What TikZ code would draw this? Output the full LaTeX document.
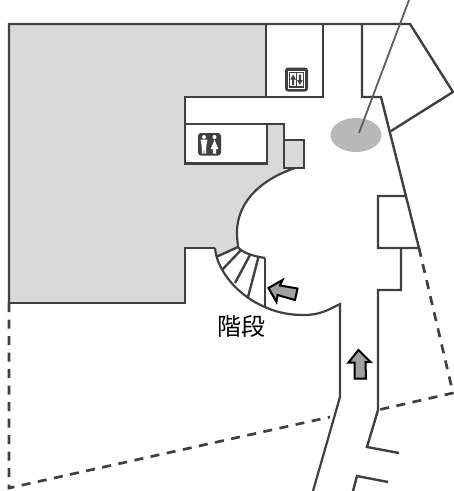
\documentclass[tikz,border=0pt]{standalone}
\usepackage{fontspec}
\newfontfamily\cjk{Noto Sans CJK JP}
\definecolor{wall}{HTML}{404040}
\definecolor{zone}{HTML}{D9D9D9}
\definecolor{spot}{HTML}{B8B8B8}
\definecolor{arrowfill}{HTML}{A0A0A0}
\tikzset{
  wallline/.style={draw=wall,line width=2.4pt,line join=miter},
  thinwall/.style={draw=wall,line width=2.2pt},
  dashline/.style={draw=wall,line width=2.7pt,dash pattern=on 9pt off 7.5pt},
  walkarrow/.style={draw=black,line width=2pt,fill=arrowfill,line join=miter},
  iconbg/.style={fill=wall,rounded corners=3pt},
}
\begin{document}
\begin{tikzpicture}[x=1pt,y=-1pt]
\useasboundingbox (0,0) rectangle (454,491);
% grey zone
\fill[zone] (9,24) -- (266,24) -- (266,97) -- (185,97) -- (185,163.5) -- (267,163.5) -- (267,124) -- (284,124) -- (284,168) -- (295,168)
  .. controls (268,177) and (237,197) .. (237,233)
  .. controls (237,240) and (238,244) .. (238,247)
  -- (216,256) -- (215,248) -- (185,248) -- (185,303) -- (9,303) -- cycle;
\fill[zone] (284,140) rectangle (304,168);
% spot and leader
\fill[spot] (356,135) ellipse [x radius=25.5,y radius=17];
% outer walls
\draw[wallline] (9,303) -- (9,24) -- (410,24) -- (453,92) -- (391,131);
\draw[wallline] (266,24) -- (266,97);
\draw[wallline] (323,24) -- (323,97) -- (185,97) -- (185,163.5) -- (267,163.5) -- (267,124);
\draw[wallline] (185,124) -- (284,124) -- (284,168) -- (304,168) -- (304,140) -- (284,140);
\draw[wallline] (362,24) -- (362,97) -- (381,97) -- (419,248) -- (378,248) -- (378,196) -- (406,196);
\draw[wallline] (401,248) -- (401,290) -- (378,290) -- (378,410) -- (367,447) -- (399,453);
\draw[wallline] (388,482) -- (357,476) -- (353,491);
\draw[wallline] (9,303) -- (185,303) -- (185,248) -- (215,248);
% central curve
\draw[thinwall] (295,168)
  .. controls (268,177) and (237,197) .. (237,233)
  .. controls (237,240) and (238,244) .. (238,247)
  .. controls (241,252) and (252,256) .. (265,258);
% stairs
\draw[thinwall] (215,248) .. controls (217,272) and (240,297) .. (265,307)
  .. controls (280,314) and (294,315) .. (304,315)
  .. controls (320,315) and (328,310) .. (340,304) -- (340,397) -- (313,491);
\draw[wallline] (265,258) -- (265,307);
\draw[wallline] (238,247) -- (216,257);
\draw[wallline] (241,250) -- (222,270);
\draw[wallline] (250,255) -- (235,283);
\draw[wallline] (258.5,257) -- (248,297);
% dashed limits
\draw[dashline] (9,303) -- (9,488) -- (330,417);
\draw[dashline] (419,248) -- (453,393) -- (378,410);
% leader
\draw[draw=wall!85!white,line width=1.8pt] (359,133) -- (409,0);
% walking arrows
\draw[walkarrow] (268.5,288) -- (282.5,280) -- (280,285.5) -- (297.5,288.5) -- (295,300) -- (277.5,295) -- (276.5,302) -- cycle;
\draw[walkarrow] (358.5,350) -- (370.5,362) -- (365.5,362) -- (366,378.5) -- (354.5,378.5) -- (354.5,362.5) -- (348.5,362.5) -- cycle;
% elevator icon
\fill[iconbg] (285,67.5) rectangle (308,91.5);
\fill[white] (288,70.5) rectangle (305,88.5);
\fill[wall] (289,71.5) rectangle (304,87.5);
\fill[white] (290.2,72.7) rectangle (296,86.3);
\fill[white] (297,72.7) rectangle (302.8,86.3);
\fill[wall] (293.1,74.5) -- (295.9,79.5) -- (294.2,79.5) -- (294.2,85) -- (292,85) -- (292,79.5) -- (290.3,79.5) -- cycle;
\fill[wall] (299.9,85) -- (302.7,80) -- (301,80) -- (301,74.5) -- (298.8,74.5) -- (298.8,80) -- (297.1,80) -- cycle;
% toilet icon
\fill[iconbg] (198,133) rectangle (221,155.5);
\fill[white] (204,137) circle (2);
\fill[white] (214.5,137) circle (2);
\fill[white] (200.5,139.5) -- (207.5,139.5) -- (206.3,146) -- (206,153.5) -- (204.5,153.5) -- (204,147) -- (203.5,153.5) -- (202,153.5) -- (201.7,146) -- cycle;
\fill[white] (214.5,139.5) -- (218.3,149) -- (216.2,149) -- (216.2,153.5) -- (212.8,153.5) -- (212.8,149) -- (210.7,149) -- cycle;
% label
\node[font=\cjk\fontsize{24}{24}\selectfont,text=black,inner sep=0pt] (stairlabel) at (241.5,326.5) {階段};
\end{tikzpicture}
\end{document}
